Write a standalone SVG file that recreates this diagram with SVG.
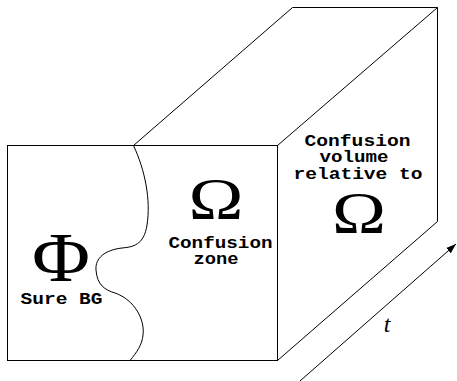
<svg xmlns="http://www.w3.org/2000/svg" width="457" height="381" viewBox="0 0 457 381">
<style>
.ln{fill:none;stroke:#000;stroke-width:1}
.mono{font-family:"Liberation Mono","Courier New",monospace;font-weight:bold;font-size:16px;fill:#000}
.sym{font-family:"Liberation Serif","Times New Roman",serif;fill:#000}
</style>
<defs>
<marker id="ah" viewBox="0 0 10 10" refX="10" refY="5" markerWidth="10" markerHeight="10" markerUnits="userSpaceOnUse" orient="auto">
<path d="M0,1.5 L10,5 L0,8.5 z" fill="#000"/>
</marker>
</defs>
<rect width="457" height="381" fill="#fff"/>
<g id="box">
<rect class="ln" x="7.5" y="145.5" width="270" height="215"/>
<path class="ln" d="M133.5,145.5 L292.5,7.5 L437.5,7.5 L277.5,145.5 M437.5,7.5 L437.5,221.5 L277.5,360.5"/>
</g>
<g id="boundary">
<path class="ln" d="M133.5,145.5 C145,170 151,200 147,225 C144,245 133,247 122,248 C105,250 95,258 96,270 C97,285 105,290 115,293 C135,300 145,320 143,335 C142,345 137,352 130,360.5"/>
</g>
<g id="sure-bg">
<text class="sym" x="61" y="281" font-size="69" text-anchor="middle" textLength="58" lengthAdjust="spacingAndGlyphs">Φ</text>
<text class="mono" x="61.5" y="304" text-anchor="middle" textLength="82" lengthAdjust="spacingAndGlyphs">Sure BG</text>
</g>
<g id="confusion-zone">
<text class="sym" x="216" y="218.5" font-size="59" text-anchor="middle" textLength="55" lengthAdjust="spacingAndGlyphs">Ω</text>
<text class="mono" x="220.5" y="248" text-anchor="middle" textLength="104" lengthAdjust="spacingAndGlyphs">Confusion</text>
<text class="mono" x="216" y="264" text-anchor="middle" textLength="45" lengthAdjust="spacingAndGlyphs">zone</text>
</g>
<g id="confusion-volume">
<text class="mono" x="357.5" y="145.5" text-anchor="middle" textLength="106" lengthAdjust="spacingAndGlyphs">Confusion</text>
<text class="mono" x="354" y="162" text-anchor="middle" textLength="69" lengthAdjust="spacingAndGlyphs">volume</text>
<text class="mono" x="358" y="179" text-anchor="middle" textLength="129" lengthAdjust="spacingAndGlyphs">relative to</text>
<text class="sym" x="359" y="232.5" font-size="60" text-anchor="middle" textLength="54" lengthAdjust="spacingAndGlyphs">Ω</text>
</g>
<g id="connectors">
<line class="ln" x1="300" y1="381" x2="456" y2="244" marker-end="url(#ah)"/>
<text class="sym" x="387" y="331.5" font-size="24" font-style="italic" text-anchor="middle">t</text>
</g>
</svg>
